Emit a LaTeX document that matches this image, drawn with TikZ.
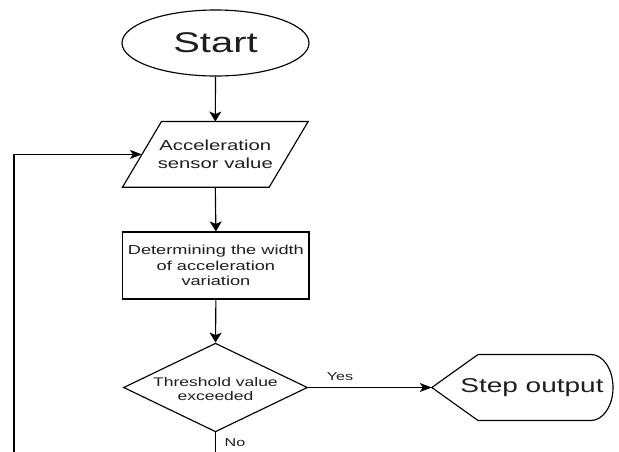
\documentclass[tikz,border=0pt]{standalone}
\usepackage{fontspec}
\setmainfont{Liberation Sans}[FakeStretch=1.4]
\usetikzlibrary{shapes.geometric,arrows.meta,calc}
\definecolor{ink}{RGB}{30,30,30}
\begin{document}
\begin{tikzpicture}[x=1pt,y=-1pt,
  line/.style={draw=black,line width=1.15pt},
  varr/.style={line,-{Stealth[length=10pt,width=12pt,inset=2.5pt]}},
  harr/.style={line,-{Stealth[length=12pt,width=9pt,inset=3pt]}},
  txt/.style={text=ink,align=center,inner sep=0pt},
  hidden/.style={rectangle,draw=none,inner sep=0pt}]
\useasboundingbox (0,0) rectangle (619,451);
% Start
\node[ellipse,line,fill=white,minimum width=187pt,minimum height=66pt,inner sep=0pt,
      txt,font=\fontsize{28.5}{32}\selectfont] (start) at (215.5,43) {Start};
% Parallelogram (input)
\node[hidden,minimum width=185.3pt,minimum height=65.3pt,txt,
      font=\fontsize{14.5}{17.3}\selectfont] (para) at (215.3,154.4) {Acceleration\\sensor value};
\draw[line] ($(para.north west)+(39,0)$) -- (para.north east)
  -- ($(para.south east)+(-39,0)$) -- (para.south west) -- cycle;
\coordinate (paraL) at ($(para.west)+(19.5,0)$);
% Process
\node[rectangle,line,minimum width=186.3pt,minimum height=67pt,inner sep=0pt,txt,
      font=\fontsize{13}{15.5}\selectfont] (proc) at (215.9,265.5)
      {Determining the width\\of acceleration\\variation};
% Decision
\node[diamond,line,minimum width=184pt,minimum height=88.7pt,inner sep=0pt] (dec) at (215.5,387.5) {};
\node[txt,font=\fontsize{12.5}{14.3}\selectfont] (dectext) at (215.5,389) {Threshold value\\exceeded};
% Step output (display shape)
\node[hidden,minimum width=181pt,minimum height=66pt] (out) at (522.5,387.5) {};
\draw[line] (out.west) -- (478,354.5) -- (591,354.5)
  arc[start angle=90,end angle=-90,x radius=22pt,y radius=33pt]
  -- (478,420.5) -- cycle;
\node[txt,font=\fontsize{20}{24}\selectfont] (outtext) at (532,388) {Step output};
% Connectors
\draw[varr] (start.south) -- (para.north);
\draw[varr] (para.south) -- (proc.north);
\draw[varr] (proc.south) -- (dec.north);
\draw[harr] (dec.east) -- (out.west);
\node[txt,font=\fontsize{11.5}{13}\selectfont] (yes) at (340,377) {Yes};
\coordinate (nobot) at (215.5,452);
\draw[line] (dec.south) -- (nobot);
\node[txt,font=\fontsize{11.5}{13}\selectfont] (no) at (235,443) {No};
\coordinate (loopbot) at (14,452);
\draw[harr] (loopbot) |- (paraL);
\end{tikzpicture}
\end{document}
